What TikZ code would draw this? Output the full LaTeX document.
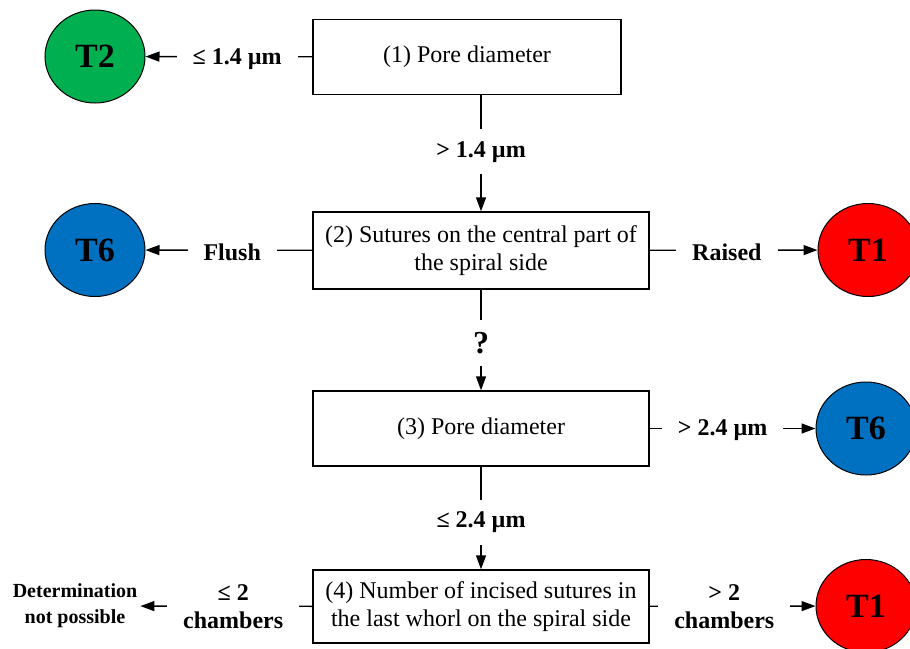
\documentclass[tikz,border=0pt]{standalone}
\usepackage{fontspec}
\setmainfont{Liberation Serif}
\usetikzlibrary{shapes.geometric,arrows.meta}
\definecolor{tgreen}{RGB}{0,176,80}
\definecolor{tblue}{RGB}{0,112,192}
\definecolor{tred}{RGB}{255,0,0}
\begin{document}
\begin{tikzpicture}[x=1pt,y=-1pt,
  box/.style={draw,line width=1.4pt,align=center,inner sep=0pt,font=\fontsize{24}{28}\selectfont},
  term/.style={ellipse,draw,line width=1pt,minimum width=100pt,minimum height=93pt,inner sep=0pt,font=\bfseries\fontsize{34}{34}\selectfont},
  lbl/.style={fill=white,align=center,inner xsep=16pt,inner ysep=12pt,yshift=-2pt,font=\bfseries\fontsize{24}{28}\selectfont},
  arr/.style={line width=1.4pt,-{Triangle[length=14pt,width=10pt]}}]
    \clip (0,0) rectangle (910,648);
    \node [box,minimum width=308pt,minimum height=75pt] (b1) at (467,57) {(1) Pore diameter};
    \node [box,minimum width=336pt,minimum height=77pt] (b2) at (481,250.5) {(2) Sutures on the central part of\\the spiral side};
    \node [box,minimum width=336pt,minimum height=75pt] (b3) at (481,428.5) {(3) Pore diameter};
    \node [box,minimum width=336pt,minimum height=73pt] (b4) at (481,606.5) {(4) Number of incised sutures in\\the last whorl on the spiral side};
%
    \node [term,fill=tgreen] (t2) at (95,56.5) {T2};
    \node [term,fill=tblue] (t6a) at (95,250) {T6};
    \node [term,fill=tred] (t1a) at (868,250) {T1};
    \node [term,fill=tblue] (t6b) at (866,428.5) {T6};
    \node [term,fill=tred] (t1b) at (866,606) {T1};
    \node [align=center,inner xsep=3pt,font=\bfseries\fontsize{20}{26}\selectfont] (dnp) at (75,606) {Determination\\not possible};
%
    \draw [arr] (b1) -- node[lbl,pos=.45] {≤ 1.4 µm} (t2);
    \draw [arr] (b2.north |- b1.south) -- node[lbl,pos=.47] {> 1.4 µm} (b2.north);
    \draw [arr] (b2) -- node[lbl,pos=.48] {Flush} (t6a);
    \draw [arr] (b2) -- node[lbl,pos=.46] {Raised} (t1a);
    \draw [arr] (b2) -- node[lbl,pos=.51,font=\bfseries\fontsize{32}{32}\selectfont] {?} (b3);
    \draw [arr] (b3) -- node[lbl,pos=.44] {> 2.4 µm} (t6b);
    \draw [arr] (b3) -- node[lbl,pos=.52] {≤ 2.4 µm} (b4);
    \draw [arr] (b4) -- node[lbl,pos=.46,yshift=2pt] {≤ 2\\chambers} (dnp);
    \draw [arr] (b4) -- node[lbl,pos=.45,yshift=2pt] {> 2\\chambers} (t1b);
\end{tikzpicture}
\end{document}
